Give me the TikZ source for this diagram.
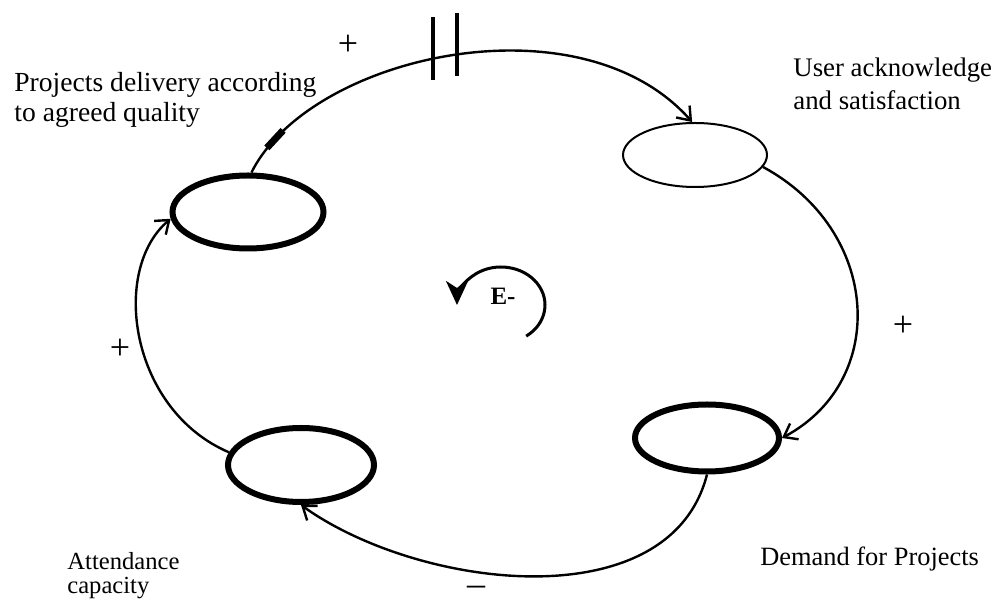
\documentclass[tikz,border=0pt]{standalone}
\usepackage{fontspec}
\setmainfont{Liberation Serif}
\usetikzlibrary{shapes.geometric, arrows.meta, positioning}
\tikzset{
  varbox/.style={ellipse, draw=black, fill=white, line width=1pt,
              minimum width=72pt, minimum height=32pt, inner sep=0pt},
  keybox/.style={ellipse, draw=black, fill=white, line width=3pt,
              minimum width=73pt, minimum height=36pt, inner sep=0pt},
  arrow/.style={-{Straight Barb[length=6pt, width=9pt]}, line width=1.2pt},
  sign/.style={font=\fontsize{18}{18}\selectfont, inner sep=0pt},
  caption/.style={font=\fontsize{13.8}{15}\selectfont, align=left, anchor=north west, inner sep=0pt},
  delaybar/.style={fill=black, minimum width=2pt, minimum height=31.5pt, inner sep=0pt},
}

\begin{document}
\begin{tikzpicture}[x=0.5pt, y=-0.5pt]
\useasboundingbox (0,0) rectangle (1007,603);
\node[keybox, minimum width=75.5pt, minimum height=36.5pt] (delivery) at (248,212) {};
\node[varbox] (users) at (695,155) {};
\node[keybox, minimum width=72pt, minimum height=33.5pt] (demand) at (707,438) {};
\node[keybox, minimum height=37pt] (capacity) at (301,465) {};

\draw[arrow] (delivery.85) .. controls (310,55) and (580,-5) .. (users.95)
  node[delaybar, pos=0.465, yshift=5pt] (delay1) {}
  node[delaybar, pos=0.51, yshift=5pt] (delay2) {}
  node[pos=0.1, sloped, fill=black, minimum width=12pt, minimum height=3.5pt, inner sep=0pt] (mark) {};
\draw[arrow] (users.-10) .. controls (880,230) and (890,380) .. (demand.0);
\draw[arrow] (demand.south) .. controls (670,620) and (420,590) .. (capacity.south);
\draw[arrow] (capacity.170) .. controls (130,410) and (110,270) .. (delivery.185);

\node[caption] (deliverylabel) at (14,72) {Projects delivery according\\to agreed quality};
\node[caption, font=\fontsize{13.4}{16.5}\selectfont] (userslabel) at (793,58) {User acknowledge\\and satisfaction};
\node[caption, font=\fontsize{12.3}{12}\selectfont] (capacitylabel) at (67,552) {Attendance\\capacity};
\node[caption, font=\fontsize{13.2}{15}\selectfont] (demandlabel) at (760,547) {Demand for Projects};

\node[sign] (plus1) at (348,45) {+};
\node[sign] (plus2) at (903,326) {+};
\node[sign] (plus3) at (120,349) {+};
\node[sign] (minus1) at (476,591) {--};

\coordinate (loop) at (501,305);
\draw[line width=1.5pt, -{Stealth[length=12pt, width=11pt, inset=3.5pt]}]
  (loop) ++(-55:22pt and 19pt) arc[start angle=-55, end angle=180, x radius=22pt, y radius=19pt];
\node[font=\bfseries\fontsize{12.5}{12.5}\selectfont, inner sep=0pt] (balance) at (503,296) {E-};
\end{tikzpicture}
\end{document}
